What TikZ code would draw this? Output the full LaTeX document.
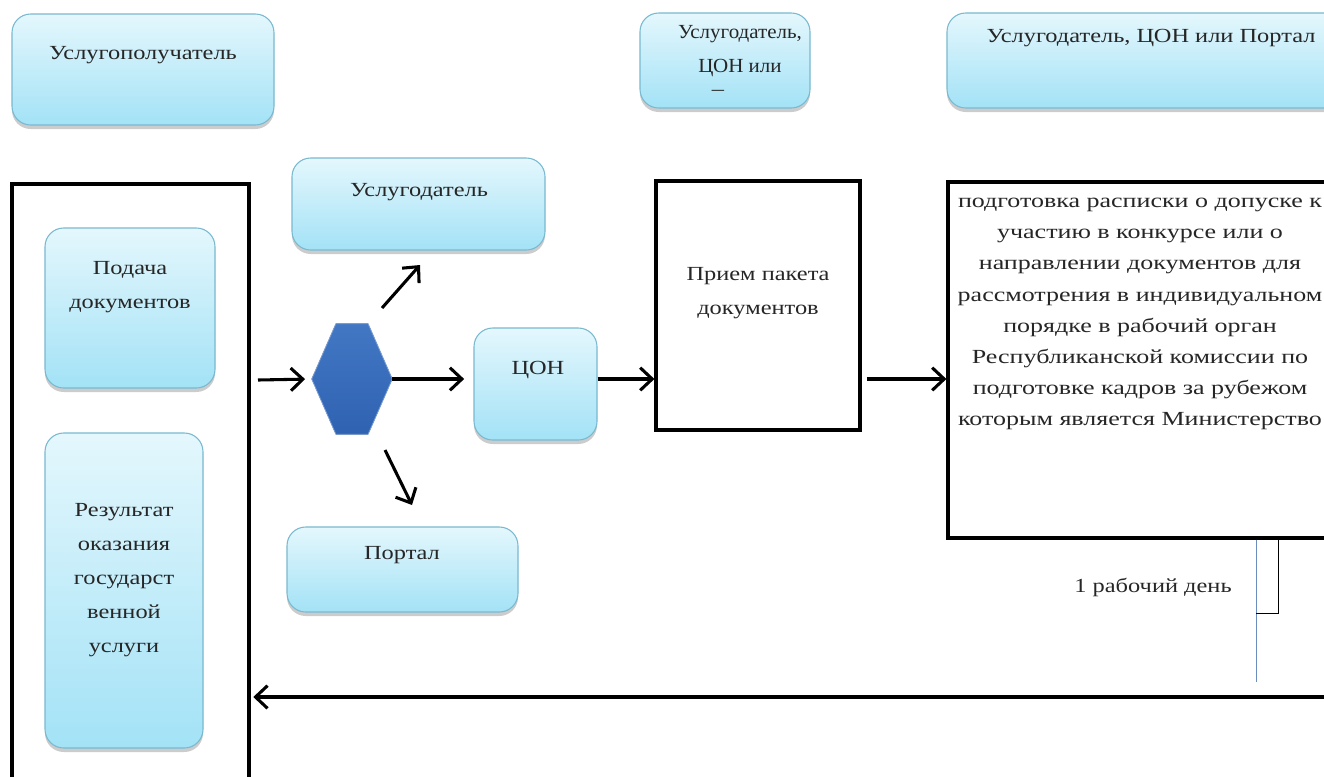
\documentclass[tikz,border=0pt]{standalone}
\usepackage{fontspec}
\setmainfont{Liberation Serif}
\usetikzlibrary{arrows.meta,shadows,fit,calc}
\newcommand{\sx}[1]{\scalebox{1.22}[1]{#1}}
\newcommand{\sxn}[1]{\scalebox{1.05}[1]{#1}}
\newcommand{\sxr}[1]{\scalebox{1.30}[1]{#1}}
\definecolor{boxtop}{HTML}{E4F7FD}
\definecolor{boxbot}{HTML}{A3E2F6}
\definecolor{boxedge}{HTML}{79B9D0}
\definecolor{hextop}{HTML}{4277C4}
\definecolor{hexbot}{HTML}{2F63B2}
\definecolor{txtgray}{HTML}{262626}
\definecolor{bline}{HTML}{6A8DBE}
\tikzset{
  bluebox/.style={rounded corners=14pt, draw=boxedge, line width=0.8pt,
    top color=boxtop, bottom color=boxbot, inner sep=0pt,
    drop shadow={shadow xshift=0pt, shadow yshift=-3pt, opacity=0.4}},
  blackbox/.style={draw=black, line width=2.4pt, fill=white, inner sep=0pt},
  arr/.style={line width=2.3pt, -{Straight Barb[length=9pt,width=17pt]}},
  txt/.style={font=\fontsize{15}{25.5}\selectfont, text=txtgray, align=center, inner sep=0pt},
  rtxt/.style={font=\fontsize{15}{23.3}\selectfont, text=txtgray, align=center, inner sep=0pt},
}
\begin{document}
\begin{tikzpicture}[x=0.75pt,y=-0.75pt]
\useasboundingbox (0,0) rectangle (1324,776);
\clip (0,0) rectangle (1324,776);
% top lane headers
\node[bluebox, fit={(12,14) (274,125)}] (h1) {};
\node[txt] (h1t) at (143,55) {\sx{Услугополучатель}};
\node[bluebox, fit={(640,13) (810,108)}] (h2) {};
\node[txt] (h2t) at (740,51) {\sxn{Услугодатель,}\\\sxn{ЦОН или}};
\node[txt] (h2d) at (718,93) {\sx{–}};
\node[bluebox, fit={(947,13) (1360,108)}] (h3) {};
\node[txt] (h3t) at (1151,38) {\sx{Услугодатель, ЦОН или Портал}};
% left lane
\node[blackbox, fit={(12,184) (249,800)}] (left) {};
\node[bluebox, fit={(45,228) (215,388)}] (podacha) {};
\node[txt] (podachat) at (130,287) {\sx{Подача}\\\sx{документов}};
\node[bluebox, fit={(45,433) (203,748)}] (rez) {};
\node[txt] (rezt) at (124,580) {\sx{Результат}\\\sx{оказания}\\\sx{государст}\\\sx{венной}\\\sx{услуги}};
% hexagon
\node[minimum width=60pt, minimum height=82.5pt, inner sep=0pt] (hex) at (352,379) {};
\fill[top color=hextop, bottom color=hexbot, draw=hextop!70!white, line width=0.6pt]
  (hex.west) -- ($(hex.north west)!0.3!(hex.north east)$) -- ($(hex.north east)!0.3!(hex.north west)$)
  -- (hex.east) -- ($(hex.south east)!0.3!(hex.south west)$) -- ($(hex.south west)!0.3!(hex.south east)$) -- cycle;
% branch boxes
\node[bluebox, fit={(292,158) (545,250)}] (usl) {};
\node[txt] (uslt) at (419,192) {\sx{Услугодатель}};
\node[bluebox, fit={(474,328) (597,440)}] (con) {};
\node[txt] (cont) at (538,370) {\sx{ЦОН}};
\node[bluebox, fit={(287,527) (518,612)}] (portal) {};
\node[txt] (portalt) at (402,555) {\sx{Портал}};
% process boxes
\node[blackbox, fit={(656,181) (860,430)}] (priem) {};
\node[txt] (priemt) at (758,293) {\sx{Прием пакета}\\\sx{документов}};
\node[blackbox, fit={(948,182) (1360,538)}] (right) {};
\node[rtxt] (rightt) at (1140,314) {\sxr{подготовка расписки о допуске к}\\\sxr{участию в конкурсе или о}\\\sxr{направлении документов для}\\\sxr{рассмотрения в индивидуальном}\\\sxr{порядке в рабочий орган}\\\sxr{Республиканской комиссии по}\\\sxr{подготовке кадров за рубежом}\\\sxr{которым является Министерство}};
% time mark
\coordinate (tl1) at ($(right.south west)+(310,0)$);
\coordinate (tl2) at ($(right.south west)+(310,142)$);
\coordinate (tb1) at ($(right.south west)+(332,0)$);
\coordinate (tb2) at ($(right.south west)+(332,74)$);
\draw[bline, line width=1.1pt] (tl1) -- (tl2);
\draw[black, line width=1.1pt] (tb1) -- (tb2) -- (tb2 -| tl1);
\node[txt] (day) at (1153,587) {\sx{1 рабочий день}};
% connectors
\coordinate (in0) at (258,380);
\draw[arr, shorten >=5pt] (in0) -- (hex.west);
\draw[arr, shorten >=7pt] (hex.east) -- (con.west |- hex.east);
\draw[arr] (con.east |- hex.east) -- (priem.west |- hex.east);
\draw[arr, shorten <=4pt] (priem.east |- hex.east) -- (right.west |- hex.east);
\coordinate (u1) at (382,308);
\coordinate (u2) at (420,265);
\draw[arr] (u1) -- (u2);
\coordinate (p1) at (385,450);
\coordinate (p2) at (412,505);
\draw[arr] (p1) -- (p2);
\coordinate (ret) at (1330,697);
\draw[arr, shorten >=2pt] (ret) -- (left.east |- ret);
\end{tikzpicture}
\end{document}
